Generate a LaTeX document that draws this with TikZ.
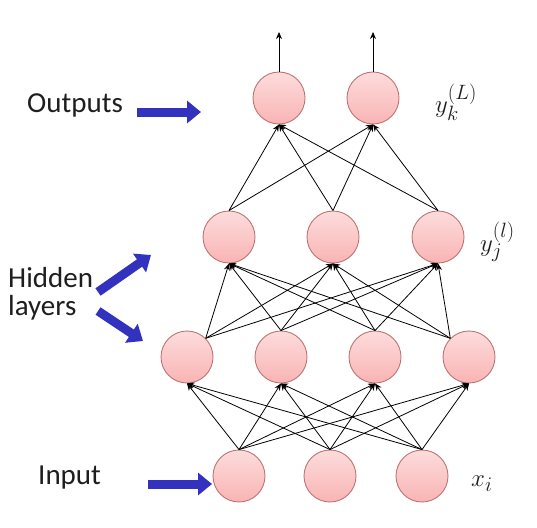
\documentclass[tikz,border=0pt]{standalone}
\usepackage{fontspec}
\setmainfont{Carlito}
\usetikzlibrary{arrows.meta}
\definecolor{nodefillT}{RGB}{253,220,220}
\definecolor{nodefillB}{RGB}{249,180,180}
\definecolor{nodeedge}{RGB}{190,115,115}
\definecolor{bluearr}{RGB}{50,50,190}
\definecolor{txt}{RGB}{30,30,30}
\begin{document}
\begin{tikzpicture}[x=1pt,y=-1pt,
  neuron/.style={circle, minimum size=52pt, inner sep=0pt, draw=nodeedge, line width=0.9pt,
     top color=nodefillT, bottom color=nodefillB},
  conn/.style={draw=black, line width=0.8pt, -{Stealth[length=7pt,width=6pt]}},
  bigarrow/.style={draw=bluearr, line width=9pt, -{Triangle[length=14pt,width=22pt]}},
  lbl/.style={font=\fontsize{29}{29}\selectfont, text=txt, inner sep=0pt},
  mlbl/.style={font=\fontsize{31}{31}\selectfont, text=txt, inner sep=0pt}]
\useasboundingbox (0,0) rectangle (537,527);
% nodes
\node[neuron] (o1) at (279,98) {};
\node[neuron] (o2) at (373,98) {};
\node[neuron] (g1) at (229,237) {};
\node[neuron] (g2) at (333,237) {};
\node[neuron] (g3) at (438,237) {};
\node[neuron] (h1) at (187,357) {};
\node[neuron] (h2) at (281,357) {};
\node[neuron] (h3) at (375,357) {};
\node[neuron] (h4) at (469,357) {};
\node[neuron] (i1) at (239,476) {};
\node[neuron] (i2) at (330,476) {};
\node[neuron] (i3) at (422,476) {};
% outgoing
\coordinate (t1) at (279,32);
\coordinate (t2) at (373,32);
\draw[conn] (o1.north) -- (t1);
\draw[conn] (o2.north) -- (t2);
% hidden2 -> output
\foreach \a in {1,2,3}{\foreach \b in {1,2}{\draw[conn] (g\a.north) -- (o\b.south);}}
% hidden1 -> hidden2
\foreach \b in {1,2,3}{
  \draw[conn] (h1.45) -- (g\b.south);
  \draw[conn] (h2.north) -- (g\b.south);
  \draw[conn] (h3.north) -- (g\b.south);
  \draw[conn] (h4.135) -- (g\b.south);
}
% input -> hidden1
\foreach \a in {1,2,3}{\foreach \b in {1,2,3,4}{\draw[conn] (i\a.north) -- (h\b.south);}}
% labels
\node[lbl, anchor=west] (lout) at (27,105) {Outputs};
\node[lbl, anchor=west, align=left] (lhid) at (8,294) {Hidden\\[-1pt]layers};
\node[lbl, anchor=west] (lin) at (38,478) {Input};
\node[mlbl, anchor=west] (yk) at (435,102) {$y_k^{(L)}$};
\node[mlbl, anchor=west] (yj) at (480,242) {$y_j^{(l)}$};
\node[mlbl, anchor=west] (xi) at (471,484) {$x_i$};
% blue arrows
\coordinate (ao1) at (137,112); \coordinate (ao2) at (201,112);
\coordinate (ah1) at (98,292); \coordinate (ah2) at (151,255);
\coordinate (ah3) at (98,311); \coordinate (ah4) at (143,341);
\coordinate (ai1) at (148,484); \coordinate (ai2) at (212,484);
\draw[bigarrow] (ao1) -- (ao2);
\draw[bigarrow] (ah1) -- (ah2);
\draw[bigarrow] (ah3) -- (ah4);
\draw[bigarrow] (ai1) -- (ai2);
\end{tikzpicture}
\end{document}
